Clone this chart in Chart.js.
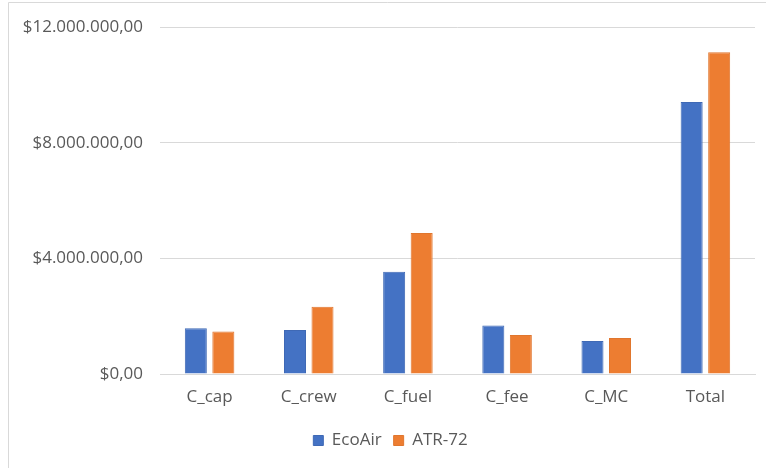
<!DOCTYPE html>
<html>
<head>
<meta charset="utf-8">
<script src="https://cdn.jsdelivr.net/npm/chart.js@4.4.1/dist/chart.umd.min.js"></script>
<style>
  html, body { margin: 0; padding: 0; background: #fff; }
  #wrap { width: 766px; height: 468px; position: relative; }
</style>
</head>
<body>
<div id="wrap"><canvas id="costChart" width="766" height="468"></canvas></div>
<script>
// cost components per aircraft
const categories = ['C_cap', 'C_crew', 'C_fuel', 'C_fee', 'C_MC', 'Total'];
const ecoAir = [1580000, 1520000, 3540000, 1680000, 1140000, 9410000];
const atr72 = [1470000, 2330000, 4880000, 1350000, 1250000, 11130000];
const yTicks = [0, 4000000, 8000000, 12000000];

function money(v) {
    // $12.000.000,00 style
    const whole = Math.round(v).toString().replace(/\B(?=(\d{3})+(?!\d))/g, '.');
    return '$' + whole + ',00';
}

const FONT = "'Open Sans', sans-serif";

// light frame like the spreadsheet chart box
const framePlugin = {
    id: 'frame',
    beforeDraw(chart) {
        const c = chart.ctx;
        c.save();
        c.fillStyle = '#fff';
        c.fillRect(0, 0, chart.width, chart.height);
        c.strokeStyle = '#d9d9d9';
        c.lineWidth = 1;
        c.beginPath();
        c.moveTo(8.5, chart.height);
        c.lineTo(8.5, 2.5);
        c.lineTo(chart.width, 2.5);
        c.stroke();
        c.restore();
    },
    afterLayout(chart) {
        // nudge legend a little right, like the original
        if (chart.legend) {
            chart.legend.left += 13;
            chart.legend.right += 13;
        }
    }
};

const ctx = document.getElementById('costChart');
new Chart(ctx, {
    type: 'bar',
    data: {
        labels: categories,
        datasets: [{
            label: 'EcoAir',
            data: ecoAir,
            backgroundColor: '#4472C4',
            borderColor: '#3F69B5',
            borderWidth: 1,
            barPercentage: 0.8,
            categoryPercentage: 0.555
        }, {
            label: 'ATR-72',
            data: atr72,
            backgroundColor: '#ED7D31',
            borderColor: '#E0762E',
            borderWidth: 1,
            barPercentage: 0.8,
            categoryPercentage: 0.555
        }]
    },
    options: {
        responsive: false,
        animation: false,
        layout: { padding: { left: 0, right: 11, top: 25, bottom: 9 } },
        scales: {
            x: {
                grid: { display: false, drawTicks: false },
                border: { display: true, color: '#d9d9d9', width: 1 },
                ticks: { color: '#595959', padding: 13, font: { family: FONT, size: 17 } },
                afterFit(scale) { scale.height = 46; }
            },
            y: {
                min: 0,
                max: 12000000,
                grid: { color: '#d9d9d9', drawTicks: false },
                border: { display: false },
                afterBuildTicks(scale) { scale.ticks = yTicks.map(v => ({ value: v })); },
                afterFit(scale) { scale.width = 160; },
                ticks: {
                    color: '#595959',
                    padding: 17,
                    font: { family: FONT, size: 17 },
                    callback: v => money(v)
                }
            }
        },
        plugins: {
            legend: {
                position: 'bottom',
                labels: {
                    color: '#595959',
                    boxWidth: 10,
                    boxHeight: 10,
                    padding: 12,
                    font: { family: FONT, size: 17 }
                }
            },
            tooltip: { enabled: false }
        }
    },
    plugins: [framePlugin]
});
</script>
</body>
</html>
